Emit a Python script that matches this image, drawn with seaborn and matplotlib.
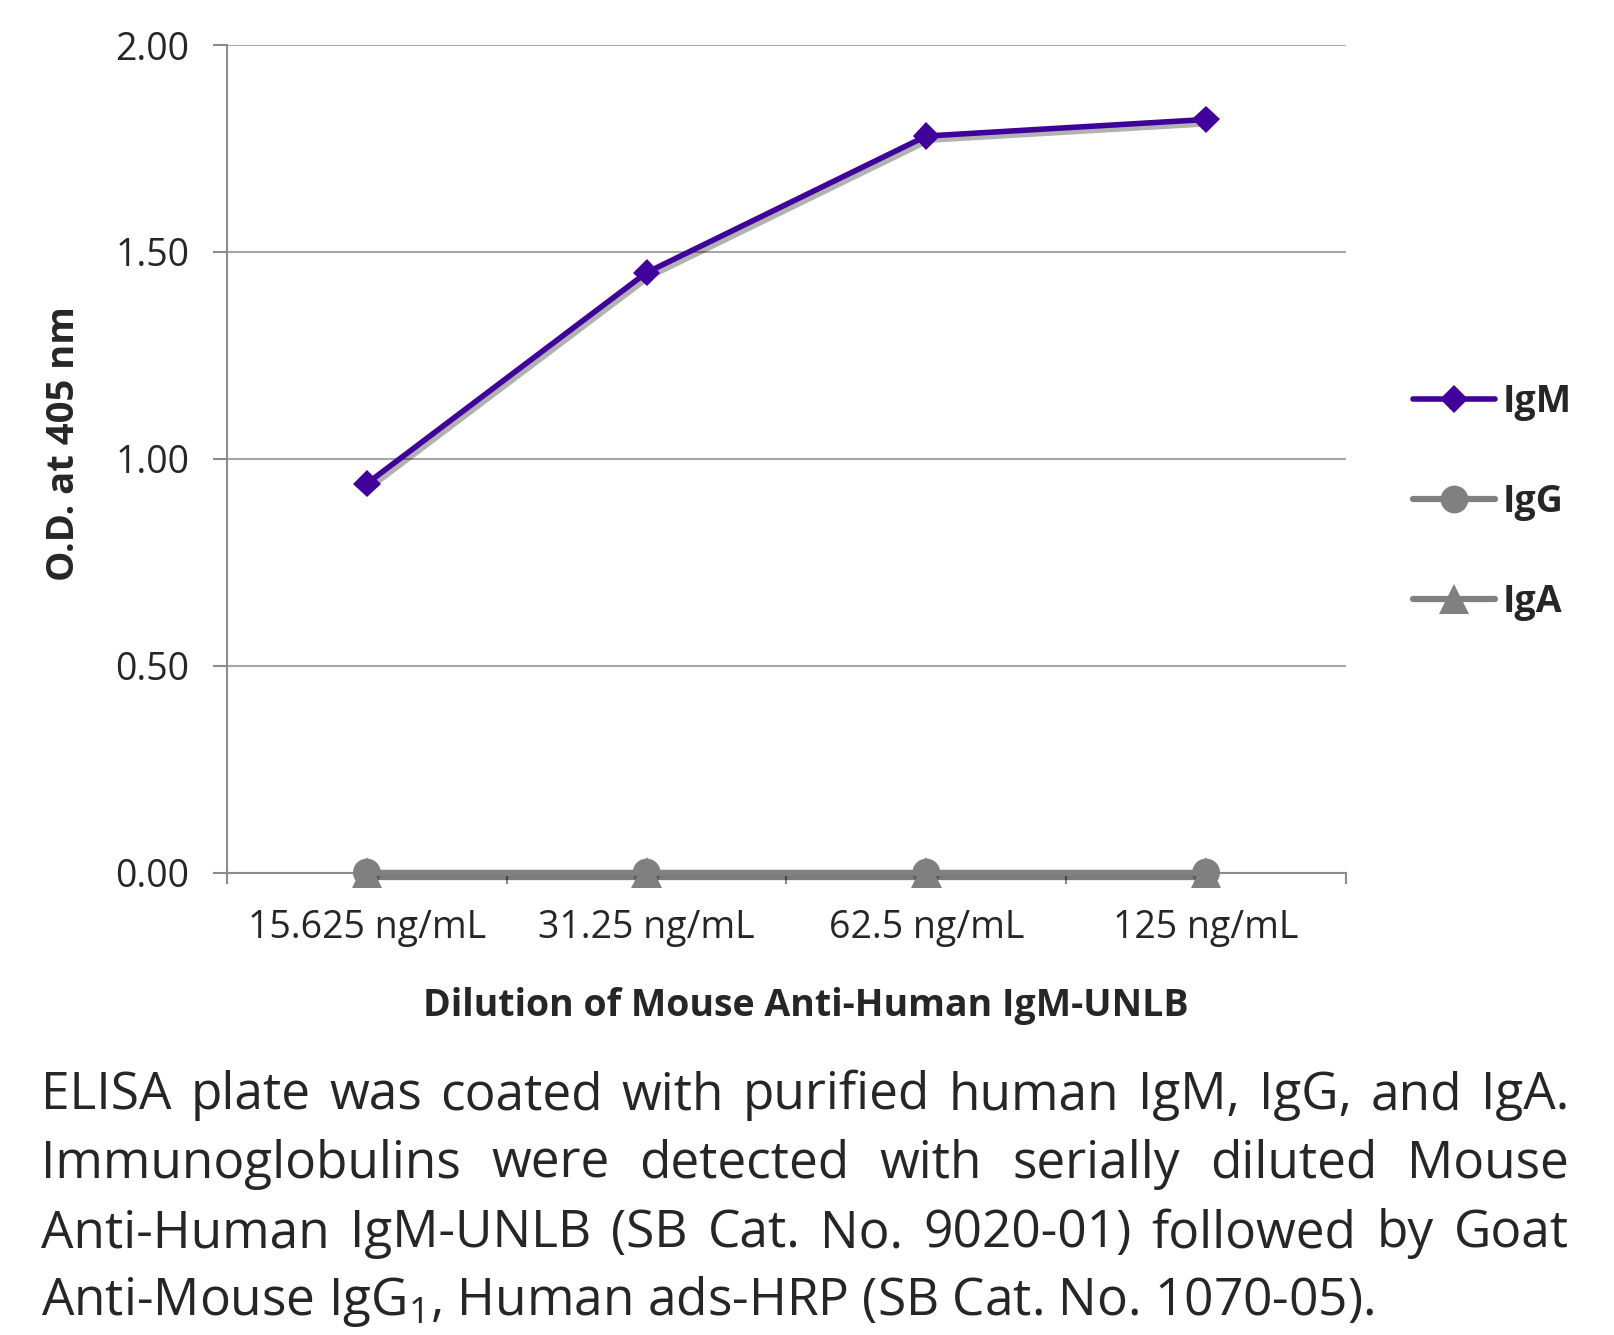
import numpy as np
import pandas as pd
import matplotlib
matplotlib.use('Agg')
import matplotlib.pyplot as plt
import matplotlib.patheffects as pe
from matplotlib.ticker import FixedLocator, FormatStrFormatter
import seaborn as sns

# Data
dilutions = ['15.625 ng/mL', '31.25 ng/mL', '62.5 ng/mL', '125 ng/mL']
igm = [0.94, 1.45, 1.78, 1.82]
igg = [0.0, 0.0, 0.0, 0.0]
iga = [0.0, 0.0, 0.0, 0.0]
y_ticks = [0.0, 0.5, 1.0, 1.5, 2.0]

x_title = 'Dilution of Mouse Anti-Human IgM-UNLB'
y_title = 'O.D. at 405 nm'
caption_lines = [
    'ELISA plate was coated with purified human IgM, IgG, and IgA.',
    'Immunoglobulins were detected with serially diluted Mouse',
    'Anti-Human IgM-UNLB (SB Cat. No. 9020-01) followed by Goat',
    'Anti-Mouse IgG$_{1}$, Human ads-HRP (SB Cat. No. 1070-05).',
]

PURPLE = '#40009a'
GRAY = '#808080'
AXIS_GRAY = '#8c8c8c'
GRID_GRAY = '#a6a6a6'

sns.set_style('white')
plt.rcParams['font.family'] = ['Open Sans', 'DejaVu Sans']
plt.rcParams['mathtext.fontset'] = 'custom'
plt.rcParams['mathtext.rm'] = 'Open Sans'
plt.rcParams['mathtext.default'] = 'regular'

W, H = 1615, 1335
fig = plt.figure(figsize=(W / 100, H / 100), dpi=100)
ax = fig.add_axes([227 / W, 1 - 872.5 / H, (1346 - 227) / W, (872.5 - 45) / H])

xpos = np.arange(len(dilutions))
shadow = [pe.SimpleLineShadow(offset=(2, -3), shadow_color='black', alpha=0.3), pe.Normal()]

sns.lineplot(x=xpos, y=igm, ax=ax, color=PURPLE, marker='D', markersize=14,
             markeredgewidth=0, linewidth=4, label='IgM', errorbar=None,
             path_effects=shadow, clip_on=False, zorder=5)
sns.lineplot(x=xpos, y=igg, ax=ax, color=GRAY, marker='o', markersize=20,
             markeredgewidth=0, linewidth=4.5, label='IgG', errorbar=None,
             path_effects=shadow, clip_on=False, zorder=3)
sns.lineplot(x=xpos, y=iga, ax=ax, color=GRAY, marker='^', markersize=22,
             markeredgewidth=0, linewidth=4.5, label='IgA', errorbar=None,
             path_effects=shadow, clip_on=False, zorder=4)

ax.set_xlim(-0.5, len(dilutions) - 0.5)
ax.set_ylim(0, 2)

# y axis
ax.yaxis.set_major_locator(FixedLocator(y_ticks))
ax.yaxis.set_major_formatter(FormatStrFormatter('%.2f'))
ax.grid(axis='y', color=GRID_GRAY, linewidth=1.5)
ax.grid(axis='x', visible=False)
ax.tick_params(axis='y', which='major', length=10, width=1.5, color=AXIS_GRAY,
               pad=17, labelsize=27, left=True)

# x axis: labels centred on categories, ticks on boundaries
ax.set_xticks(xpos)
ax.set_xticklabels(dilutions)
ax.set_xticks(np.arange(len(dilutions) + 1) - 0.5, minor=True)
ax.tick_params(axis='x', which='major', length=0, pad=26, labelsize=27)
ax.tick_params(axis='x', which='minor', length=8, width=1.5, color=AXIS_GRAY,
               bottom=True)

for side in ['top', 'right']:
    ax.spines[side].set_visible(False)
for side in ['left', 'bottom']:
    ax.spines[side].set_color(AXIS_GRAY)
    ax.spines[side].set_linewidth(1.5)

ax.set_xlabel(x_title, fontsize=27, fontweight='bold')
ax.set_ylabel(y_title, fontsize=27.5, fontweight='bold')
ax.xaxis.set_label_coords(0.517, -0.138)
ax.yaxis.set_label_coords(-0.129, 0.518)

leg = ax.legend(loc='center left', bbox_to_anchor=(1413 / W, 1 - 502 / H),
                bbox_transform=fig.transFigure, frameon=False, borderpad=0,
                borderaxespad=0, handlelength=2.2, handletextpad=0.2,
                labelspacing=1.65, prop={'size': 27, 'weight': 'bold'})
for line in leg.get_lines():
    line.set_path_effects([])

# Caption, justified like the original text block
renderer = fig.canvas.get_renderer()
left_px, right_px = 41, 1569
baselines = [1109, 1178, 1247, 1315]
cap_size = 37
for i, (line, base) in enumerate(zip(caption_lines, baselines)):
    y = 1 - base / H
    if i == len(caption_lines) - 1:
        fig.text(left_px / W, y, line, fontsize=cap_size, va='baseline', ha='left')
        continue
    words = line.split(' ')
    texts = [fig.text(0, y, w, fontsize=cap_size, va='baseline', ha='left') for w in words]
    widths = [t.get_window_extent(renderer).width for t in texts]
    gap = (right_px - left_px - sum(widths)) / (len(words) - 1)
    x = left_px
    for t, w in zip(texts, widths):
        t.set_x(x / W)
        x += w + gap

fig.savefig('out.png', dpi=100)
